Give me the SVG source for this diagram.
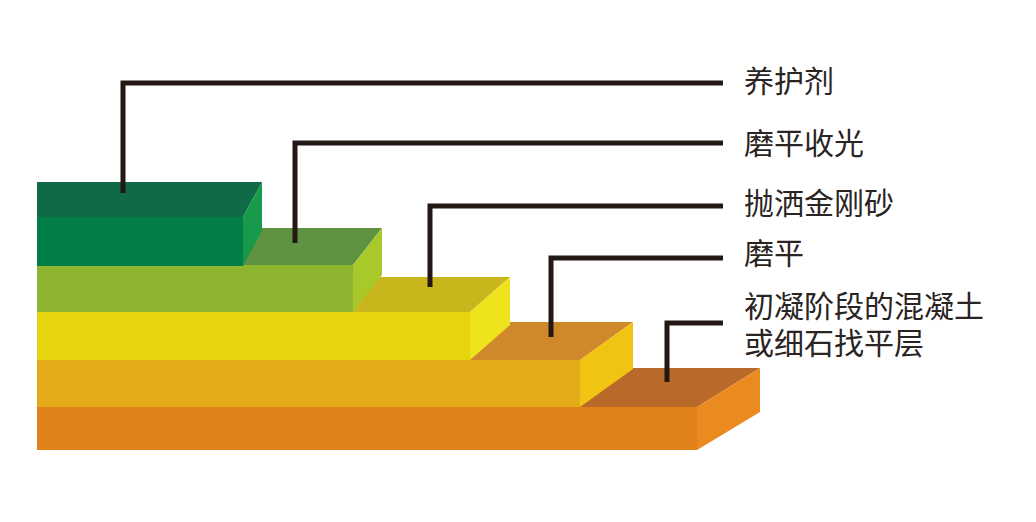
<svg xmlns="http://www.w3.org/2000/svg" width="1036" height="522" viewBox="0 0 1036 522">
<style>
.lbl{font-family:"Noto Sans CJK SC","Noto Sans",sans-serif;font-size:30px;fill:#2a2422}
.ld{fill:none;stroke:#231815;stroke-width:5;stroke-linecap:butt;stroke-linejoin:miter}
</style>
<rect width="1036" height="522" fill="#ffffff"/>
<g id="layer5">
<polygon points="37,368 760,368 697,407 37,407" fill="#b9692a"/>
<rect x="37" y="407" width="660" height="43" fill="#e08119"/>
<polygon points="697,407 760,368 760,412 697,450" fill="#ea8a1f"/>
</g>
<g id="layer4">
<polygon points="37,322 633,322 580,360 37,360" fill="#d0892a"/>
<rect x="37" y="360" width="543" height="47" fill="#e3ab1a"/>
<polygon points="580,360 633,322 633,369 580,407" fill="#f1c414"/>
</g>
<g id="layer3">
<polygon points="37,277 510,277 470,312 37,312" fill="#c8b61c"/>
<rect x="37" y="312" width="433" height="48" fill="#e6d50c"/>
<polygon points="470,312 510,277 510,325 470,360" fill="#eee31c"/>
</g>
<g id="layer2">
<polygon points="37,228 382,228 353,265 37,265" fill="#5f9341"/>
<rect x="37" y="265" width="316" height="47" fill="#8db530"/>
<polygon points="353,265 382,228 382,275 353,312" fill="#a9c92b"/>
</g>
<g id="layer1">
<polygon points="37,182 262,182 243,217 37,217" fill="#0f6a47"/>
<rect x="37" y="217" width="206" height="49" fill="#017e47"/>
<polygon points="243,217 262,182 262,231 243,266" fill="#179a4a"/>
</g>
<g id="connectors">
<polyline class="ld" points="123,193 123,83 723,83"/>
<polyline class="ld" points="295,243 295,143 723,143"/>
<polyline class="ld" points="430,287 430,206 723,206"/>
<polyline class="ld" points="551,337 551,258 723,258"/>
<polyline class="ld" points="667,382 667,323 723,323"/>
</g>
<g id="labels">
<text class="lbl" x="744" y="92">养护剂</text>
<text class="lbl" x="744" y="154">磨平收光</text>
<text class="lbl" x="744" y="214">抛洒金刚砂</text>
<text class="lbl" x="744" y="264">磨平</text>
<text class="lbl" x="744" y="317">初凝阶段的混凝土<tspan x="744" y="354">或细石找平层</tspan></text>
</g>
</svg>
